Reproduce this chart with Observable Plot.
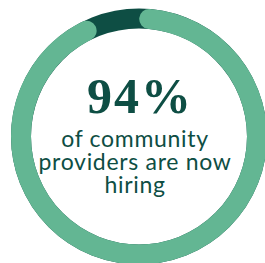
<!DOCTYPE html>
<html>
<head>
<meta charset="utf-8">
<script src="https://cdn.jsdelivr.net/npm/d3@7"></script>
<script src="https://cdn.jsdelivr.net/npm/@observablehq/plot@0.6"></script>
<style>
  html, body { margin: 0; padding: 0; background: #fff; }
  #chart svg { display: block; }
</style>
</head>
<body>
<div id="chart"></div>
<script>
// Data
const share = 94;            // percent hiring
const rest = 100 - share;    // percent not
const headline = `${share}%`;
const captionLines = ["of community", "providers are now", "hiring"];

// Styles
const lightGreen = "#63b693";
const darkGreen = "#0e4e44";
const ringRadius = 118;
const ringWidth = 20;

const C = 2 * Math.PI * ringRadius;
const cap = ringWidth / 2;
const dash = (share / 100) * C - 2 * cap;
const gap = C - dash;
// circle path starts at 3 o'clock going clockwise; start dash at 12 o'clock (+cap)
const offset = 0.25 * C - cap;

const centered = {x: null, y: null, frameAnchor: "middle"};

const chart = Plot.plot({
  width: 265,
  height: 263,
  marginLeft: 12,
  marginRight: 0,
  marginTop: 9,
  marginBottom: 0,
  marks: [
    Plot.dot([{value: rest}], {
      ...centered,
      r: ringRadius,
      fill: "none",
      stroke: darkGreen,
      strokeWidth: ringWidth
    }),
    Plot.dot([{value: share}], {
      ...centered,
      r: ringRadius,
      fill: "none",
      stroke: lightGreen,
      strokeWidth: ringWidth,
      strokeLinecap: "round",
      strokeDasharray: `${dash} ${gap}`,
      strokeDashoffset: offset
    }),
    Plot.text([{label: headline}], {
      ...centered,
      text: "label",
      fontFamily: "Liberation Serif",
      fontWeight: "bold",
      fontSize: 50,
      fill: darkGreen,
      dx: 1,
      dy: -39.5
    }),
    Plot.text([{label: captionLines.join("\n")}], {
      ...centered,
      text: "label",
      fontFamily: "Lato",
      fontSize: 23,
      lineHeight: 1.02,
      fill: darkGreen,
      dx: -4,
      dy: 26
    })
  ]
});
chart.querySelectorAll("text").forEach(t => {
  if (t.textContent === headline) t.setAttribute("letter-spacing", "2");
  else if (t.textContent.startsWith(captionLines[0])) t.setAttribute("letter-spacing", "0.7");
});
document.getElementById("chart").append(chart);
</script>
</body>
</html>
